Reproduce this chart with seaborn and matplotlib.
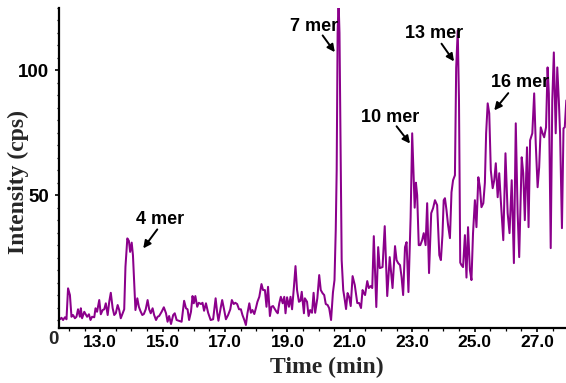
import matplotlib
matplotlib.use("Agg")
import matplotlib.pyplot as plt
import numpy as np
import pandas as pd
import seaborn as sns
from matplotlib.ticker import MultipleLocator

# ---------------- data ----------------
time_a = [11.65, 11.71, 11.76, 11.81, 11.87, 11.92, 11.97, 12.03, 12.08, 12.13,
          12.19, 12.24, 12.29, 12.35, 12.38, 12.42, 12.49, 12.53, 12.58, 12.64,
          12.69, 12.74, 12.81, 12.85, 12.90, 12.97, 13.02, 13.08, 13.13, 13.18,
          13.24, 13.29, 13.34, 13.40, 13.45, 13.50, 13.56, 13.61, 13.66, 13.72,
          13.77, 13.81, 13.87, 13.92, 13.96, 14.01, 14.05, 14.09, 14.13, 14.19,
          14.24, 14.29, 14.35, 14.40, 14.46, 14.52, 14.57, 14.62, 14.68, 14.73,
          14.79, 14.84, 14.89]
intensity_a = [1.3, 0.3, 0.9, 0.0, 1.1, 0.3, 12.7, 10.0, 1.3, 2.0,
               0.7, 1.3, 4.3, 1.3, 4.7, 0.7, 3.3, 2.4, 1.3, 2.3,
               0.0, 1.3, 1.1, 4.7, 3.3, 8.0, 2.3, 4.0, 4.3, 6.7,
               2.0, 7.3, 10.9, 4.7, 2.0, 2.7, 6.0, 4.0, 0.7, 2.7,
               4.3, 21.3, 32.7, 31.7, 27.3, 31.0, 26.0, 14.7, 4.0, 8.7,
               5.3, 3.6, 2.0, 2.4, 4.3, 8.0, 4.3, 2.7, 4.7, 2.0,
               0.0, 1.3, 1.6]

time_b = [14.97, 15.04, 15.11, 15.16, 15.21, 15.27, 15.34, 15.39, 15.45, 15.52,
          15.61, 15.69, 15.75, 15.80, 15.85, 15.91, 15.96, 16.00, 16.05, 16.11,
          16.16, 16.23, 16.28, 16.33, 16.39, 16.46, 16.54, 16.62, 16.70, 16.75,
          16.79, 16.86, 16.91, 16.97, 17.03, 17.10, 17.17, 17.22, 17.28, 17.33,
          17.39, 17.45, 17.51, 17.56, 17.62, 17.67, 17.72, 17.78, 17.83, 17.88,
          17.94, 17.99, 18.04, 18.10]
intensity_b = [3.3, 5.1, 2.7, -0.7, 1.6, -1.6, 2.0, 2.7, 0.0, -0.3,
               -0.7, 7.7, 4.7, 4.3, 0.0, 3.3, 9.6, 6.7, 9.6, 5.3,
               6.9, 6.4, 6.9, 3.7, 6.7, 2.9, 0.0, 0.3, 8.7, 2.9,
               -0.3, 4.7, 8.0, 4.3, 0.3, 2.0, 4.3, 8.0, 6.4, 6.9,
               6.4, 4.3, 4.3, 2.0, 0.0, -2.0, 2.7, 6.7, 2.9, 4.0,
               2.4, 4.7, 7.3, 9.3]

time_c = [18.17, 18.22, 18.28, 18.33, 18.38, 18.44, 18.49, 18.54, 18.60, 18.65,
          18.69, 18.74, 18.79, 18.85, 18.90, 18.94, 18.99, 19.05, 19.10, 19.15,
          19.21, 19.26, 19.31, 19.37, 19.42, 19.46, 19.53, 19.56, 19.63, 19.68,
          19.73, 19.79, 19.84, 19.89, 19.96, 20.02, 20.07, 20.13, 20.18, 20.23,
          20.29, 20.34, 20.40]
intensity_c = [14.4, 12.0, 12.0, 5.3, 13.3, 1.6, 5.3, 5.6, 4.3, 3.3,
               2.7, 6.7, 9.3, 6.7, 9.3, 2.7, 9.1, 5.3, 9.3, 4.3,
               13.3, 21.6, 12.0, 7.3, 7.7, 11.3, 2.7, 8.7, 7.3, 1.6,
               4.0, 2.9, 10.9, 2.9, 8.7, 18.0, 12.0, 10.7, 10.0, 6.4,
               6.0, 4.7, 0.0]

time_d = [20.46, 20.51, 20.55, 20.58, 20.61, 20.64, 20.67, 20.71, 20.74, 20.79,
          20.84, 20.88, 20.93, 20.98, 21.03, 21.09, 21.16, 21.24, 21.30, 21.36,
          21.41, 21.45, 21.49, 21.56, 21.61, 21.67, 21.72, 21.77, 21.85, 21.91,
          21.96, 22.05, 22.12, 22.20, 22.28, 22.37, 22.45, 22.50, 22.55, 22.61,
          22.66, 22.71, 22.77, 22.82, 22.88, 22.95]
intensity_d = [11.0, 16.0, 36.0, 60.0, 115.0, 128.0, 115.0, 61.0, 24.0, 12.0,
               8.0, 4.4, 10.8, 9.2, 5.6, 17.6, 14.0, 6.8, 6.8, 4.8,
               12.0, 10.8, 10.0, 15.6, 12.8, 13.6, 12.8, 33.6, 5.2, 29.2,
               20.8, 21.2, 37.6, 9.6, 25.2, 12.8, 29.6, 24.0, 22.8, 22.0,
               17.2, 10.0, 29.2, 31.2, 11.2, 41.2]

time_e = [23.00, 23.04, 23.08, 23.12, 23.16, 23.21, 23.26, 23.32, 23.37, 23.43,
          23.48, 23.54, 23.61, 23.67, 23.73, 23.80, 23.87, 23.92, 23.97, 24.01,
          24.05, 24.10, 24.15, 24.21, 24.26, 24.31, 24.37, 24.41, 24.46, 24.50,
          24.54, 24.58, 24.63, 24.69, 24.74, 24.79, 24.85, 24.90, 24.95]
intensity_e = [74.8, 60.0, 45.0, 55.0, 50.0, 30.0, 30.0, 32.0, 34.8, 30.0,
               46.8, 18.8, 42.8, 44.8, 48.0, 46.0, 26.0, 24.0, 34.0, 48.0,
               48.8, 44.0, 38.0, 32.8, 51.2, 56.0, 58.0, 101.0, 116.0, 88.0,
               23.0, 22.0, 21.2, 34.0, 17.0, 37.2, 20.0, 16.0, 34.8]

time_f = [25.01, 25.06, 25.12, 25.17, 25.22, 25.28, 25.33, 25.37, 25.42, 25.47,
          25.52, 25.58, 25.63, 25.68, 25.74, 25.79, 25.84, 25.92, 25.99, 26.06,
          26.12, 26.19, 26.26, 26.32, 26.38, 26.43, 26.51, 26.56, 26.61, 26.68,
          26.73, 26.78, 26.85, 26.91, 26.96, 27.02, 27.07, 27.12, 27.18, 27.23,
          27.29, 27.34, 27.38, 27.44, 27.49, 27.54, 27.60, 27.65, 27.70, 27.74,
          27.80, 27.85, 27.89, 27.94]
intensity_f = [48.0, 37.2, 57.2, 53.2, 45.2, 46.8, 55.0, 74.8, 86.8, 82.8,
               60.0, 52.8, 56.0, 62.8, 49.2, 58.8, 48.0, 32.0, 66.8, 42.8,
               34.8, 56.0, 22.8, 78.8, 42.8, 25.2, 65.2, 58.8, 40.0, 69.2,
               37.2, 72.0, 74.8, 90.8, 70.8, 53.2, 61.2, 77.2, 74.8, 73.2,
               77.2, 101.2, 90.8, 28.8, 88.0, 107.2, 74.8, 101.2, 88.0, 74.8,
               36.8, 76.8, 77.2, 88.0]

x_ticks = [13, 15, 17, 19, 21, 23, 25, 27]
x_tick_labels = ["13.0", "15.0", "17.0", "19.0", "21.0", "23.0", "25.0", "27.0"]
y_ticks = [50, 100]
y_tick_labels = ["50", "100"]

peak_labels = ["4 mer", "7 mer", "10 mer", "13 mer", "16 mer"]
label_time = [14.91, 19.85, 22.28, 23.70, 26.45]
label_int = [40.4, 117.5, 81.2, 114.8, 95.2]
tail_time = [14.83, 20.13, 22.50, 23.94, 26.08]
tail_int = [36.3, 114.0, 77.6, 110.7, 90.9]
head_time = [14.38, 20.52, 22.93, 24.34, 25.63]
head_int = [28.7, 107.3, 70.7, 103.6, 84.0]

# ---------------- build table ----------------
times = time_a + time_b + time_c + time_d + time_e + time_f
ints = intensity_a + intensity_b + intensity_c + intensity_d + intensity_e + intensity_f
n = min(len(times), len(ints))
df = pd.DataFrame({"time": times[:n], "intensity": ints[:n]})

# ---------------- plot ----------------
sns.set_style("ticks")
plt.rcParams["font.family"] = ["Liberation Sans", "DejaVu Sans"]

fig = plt.figure(figsize=(5.66, 3.83), dpi=100)
ax = fig.add_axes([59 / 566, 55 / 383, 507 / 566, 320 / 383])

sns.lineplot(data=df, x="time", y="intensity", ax=ax, color="#8b008b",
             lw=1.45, estimator=None, sort=False)

ax.set_xlim(11.68, 27.93)
ax.set_ylim(-3.2, 125)

ax.set_xticks(x_ticks)
ax.set_xticklabels(x_tick_labels, fontsize=12.5, fontweight="bold")
ax.set_yticks(y_ticks)
ax.set_yticklabels(y_tick_labels, fontsize=13.5, fontweight="bold")
ax.xaxis.set_minor_locator(MultipleLocator(0.5))
ax.yaxis.set_minor_locator(MultipleLocator(5))
ax.tick_params(which="major", direction="out", length=3, width=1.2, colors="black")
ax.tick_params(axis="x", which="major", pad=2)
ax.tick_params(axis="y", which="major", pad=4)
ax.tick_params(which="minor", direction="out", length=1.8, width=0.9, colors="black")

for side in ["top", "right"]:
    ax.spines[side].set_visible(False)
for side in ["left", "bottom"]:
    ax.spines[side].set_linewidth(1.6)
    ax.spines[side].set_color("black")

ax.set_xlabel("Time (min)", fontsize=17, fontweight="bold", family="Liberation Serif")
ax.set_ylabel("Intensity (cps)", fontsize=17, fontweight="bold", family="Liberation Serif")
ax.xaxis.set_label_coords(0.528, -0.122)
ax.xaxis.label.set_va("center")
ax.yaxis.set_label_coords(-0.081, 0.455)
ax.yaxis.label.set_va("center")

fig.text(53 / 566, 1 - 340 / 383, "0", ha="center", va="center",
         fontsize=13.5, fontweight="bold")

for lab, lt, li, tt, ti, ht, hi in zip(peak_labels, label_time, label_int,
                                        tail_time, tail_int, head_time, head_int):
    ax.text(lt, li, lab, ha="center", va="center", fontsize=13, fontweight="bold",
            color="black")
    ax.annotate("", xy=(ht, hi), xytext=(tt, ti),
                arrowprops=dict(arrowstyle="-|>", color="black", lw=1.4,
                                mutation_scale=11, shrinkA=0, shrinkB=0))

fig.savefig("out.png", dpi=100)
